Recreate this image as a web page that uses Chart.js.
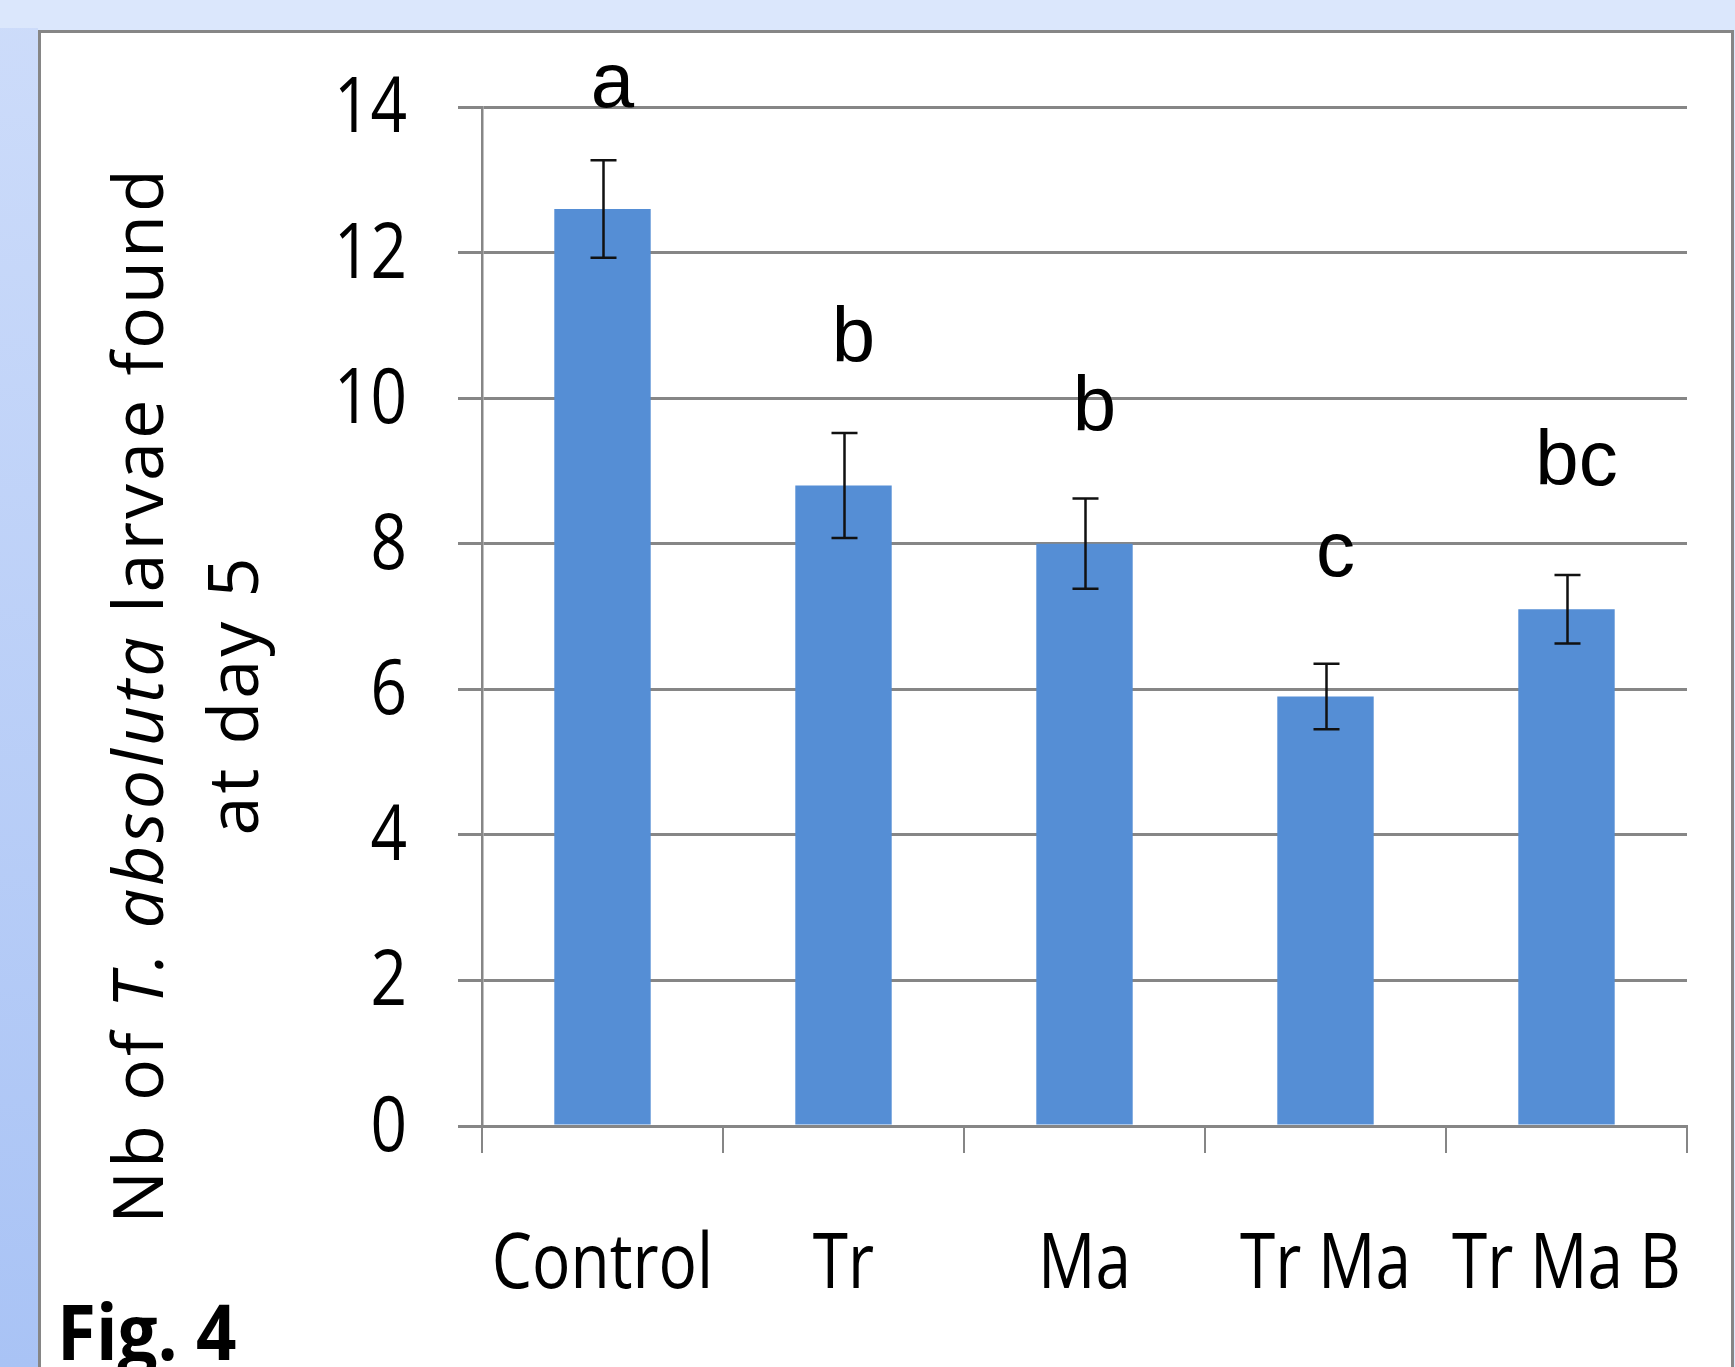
<!DOCTYPE html>
<html>
<head>
<meta charset="utf-8">
<script src="https://cdn.jsdelivr.net/npm/chart.js@4/dist/chart.umd.min.js"></script>
<style>
  html, body { margin: 0; padding: 0; background: #dbe7fc; }
  canvas { display: block; }
</style>
</head>
<body>
<canvas id="fig4" width="1735" height="1367"></canvas>
<script>
// Data
const treatments = ['Control', 'Tr', 'Ma', 'Tr Ma', 'Tr Ma B'];
const larvaeMeans = [12.6, 8.8, 8.0, 5.9, 7.1];
const larvaeErrors = [0.67, 0.72, 0.62, 0.45, 0.47];
const groupLetters = ['a', 'b', 'b', 'c', 'bc'];
const letterLevels = [14.0, 10.5, 9.55, 7.55, 8.8];
const yTicks = [0, 2, 4, 6, 8, 10, 12, 14];

const GRID = '#868686';
const BAR = '#558ed5';
const SANS = '"Open Sans", "Noto Sans", sans-serif';

// draw condensed text (the original uses a narrow font)
function narrowText(ctx, text, x, y, align, font, squeeze) {
    ctx.save();
    ctx.font = font;
    ctx.fillStyle = '#000';
    ctx.textBaseline = 'alphabetic';
    const w = ctx.measureText(text).width * squeeze;
    let left = x;
    if (align === 'center') left = x - w / 2;
    if (align === 'right') left = x - w;
    ctx.translate(left, y);
    ctx.scale(squeeze, 1);
    ctx.textAlign = 'left';
    ctx.fillText(text, 0, 0);
    ctx.restore();
}

const pagePlugin = {
    id: 'page',
    beforeDraw(chart) {
        const ctx = chart.ctx;
        ctx.save();
        ctx.fillStyle = '#dbe7fc';
        ctx.fillRect(0, 0, chart.width, chart.height);
        // darker strip down the left side
        const g = ctx.createLinearGradient(0, 0, 0, chart.height);
        g.addColorStop(0, '#cddcfa');
        g.addColorStop(1, '#a9c3f5');
        ctx.fillStyle = g;
        ctx.fillRect(0, 28, 38, chart.height);
        // white panel with grey frame
        ctx.fillStyle = '#ffffff';
        ctx.fillRect(39, 31, 1694, chart.height);
        ctx.strokeStyle = GRID;
        ctx.lineWidth = 3;
        ctx.strokeRect(39.5, 31.5, 1693, chart.height + 10);
        ctx.restore();
    },
    afterDraw(chart) {
        const ctx = chart.ctx;
        const x = chart.scales.x;
        const y = chart.scales.y;

        // y tick labels
        yTicks.forEach(v => {
            narrowText(ctx, String(v), 407, y.getPixelForValue(v) + 25, 'right', '77px ' + SANS, 0.83);
        });
        // category labels
        treatments.forEach((t, i) => {
            narrowText(ctx, t, x.getPixelForValue(i), 1288, 'center', '77px ' + SANS, 0.83);
        });

        // significance letters
        ctx.save();
        ctx.font = '78px "Liberation Sans", Arial, sans-serif';
        ctx.fillStyle = '#000';
        ctx.textAlign = 'center';
        ctx.textBaseline = 'alphabetic';
        groupLetters.forEach((l, i) => {
            ctx.fillText(l, x.getPixelForValue(i) + 10, y.getPixelForValue(letterLevels[i]));
        });
        ctx.restore();

        // rotated y axis title, with italic species name
        ctx.save();
        ctx.translate(163, 695);
        ctx.rotate(-Math.PI / 2);
        ctx.fillStyle = '#000';
        ctx.textBaseline = 'alphabetic';
        ctx.letterSpacing = '3px';
        const parts = [
            ['Nb of ', '70px ' + SANS],
            ['T. absoluta', 'italic 70px ' + SANS],
            [' larvae found', '70px ' + SANS]
        ];
        let total = 0;
        parts.forEach(p => { ctx.font = p[1]; total += ctx.measureText(p[0]).width; });
        let cx = -total / 2;
        ctx.textAlign = 'left';
        parts.forEach(p => {
            ctx.font = p[1];
            ctx.fillText(p[0], cx, 0);
            cx += ctx.measureText(p[0]).width;
        });
        ctx.font = '70px ' + SANS;
        ctx.textAlign = 'center';
        ctx.fillText('at day 5', 0, 95);
        ctx.restore();

        // figure tag
        narrowText(ctx, 'Fig. 4', 57, 1360, 'left', 'bold 77px ' + SANS, 0.92);
    }
};

const errorBarPlugin = {
    id: 'errorBars',
    afterDatasetsDraw(chart) {
        const ctx = chart.ctx;
        const y = chart.scales.y;
        const meta = chart.getDatasetMeta(0);
        ctx.save();
        ctx.strokeStyle = '#111';
        ctx.lineWidth = 2.5;
        meta.data.forEach((bar, i) => {
            const top = y.getPixelForValue(larvaeMeans[i] + larvaeErrors[i]);
            const bot = y.getPixelForValue(larvaeMeans[i] - larvaeErrors[i]);
            const bx = Math.round(bar.x) + 0.5;
            ctx.beginPath();
            ctx.moveTo(bx, top);
            ctx.lineTo(bx, bot);
            ctx.moveTo(bx - 13, top);
            ctx.lineTo(bx + 13, top);
            ctx.moveTo(bx - 13, bot);
            ctx.lineTo(bx + 13, bot);
            ctx.stroke();
        });
        ctx.restore();
    }
};

new Chart(document.getElementById('fig4'), {
    type: 'bar',
    data: {
        labels: treatments,
        datasets: [{
            data: larvaeMeans,
            backgroundColor: BAR,
            borderWidth: 0,
            barPercentage: 0.4,
            categoryPercentage: 1.0
        }]
    },
    options: {
        responsive: false,
        animation: false,
        layout: { padding: { left: 458, right: 48, top: 107, bottom: 214 } },
        plugins: {
            legend: { display: false },
            tooltip: { enabled: false }
        },
        scales: {
            x: {
                ticks: { display: false },
                grid: {
                    offset: true,
                    drawOnChartArea: false,
                    drawTicks: true,
                    tickLength: 27,
                    color: GRID,
                    lineWidth: 2
                },
                border: { display: true, color: GRID, width: 3 }
            },
            y: {
                min: 0,
                max: 14,
                ticks: { display: false, stepSize: 2 },
                grid: {
                    drawTicks: true,
                    tickLength: 24,
                    color: GRID,
                    lineWidth: 3
                },
                border: { display: true, color: GRID, width: 2.5 }
            }
        }
    },
    plugins: [pagePlugin, errorBarPlugin]
});
</script>
</body>
</html>
